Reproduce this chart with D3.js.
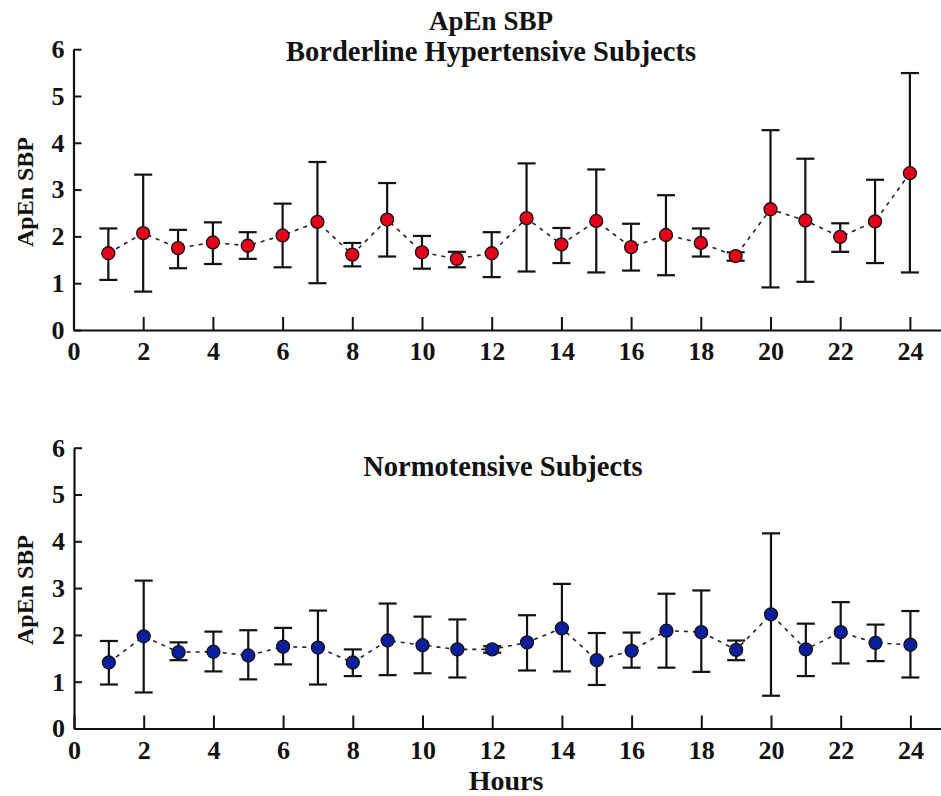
<!DOCTYPE html>
<html>
<head>
<meta charset="utf-8">
<script src="https://cdn.jsdelivr.net/npm/d3@7"></script>
<style>
  html, body { margin: 0; padding: 0; background: #fff; }
  svg { display: block; }
  text { font-family: "Liberation Serif", "Times New Roman", serif; font-weight: bold; fill: #111; }
</style>
</head>
<body>
<svg id="chart" width="941" height="796"></svg>
<script>
// Hourly approximate entropy of systolic blood pressure (mean with error bounds)
const hours = [1,2,3,4,5,6,7,8,9,10,11,12,13,14,15,16,17,18,19,20,21,22,23,24];

const bhMean  = [1.64,2.07,1.75,1.87,1.80,2.02,2.31,1.61,2.36,1.66,1.52,1.64,2.39,1.83,2.33,1.77,2.03,1.86,1.58,2.58,2.34,1.99,2.32,3.35];
const bhUpper = [2.17,3.32,2.14,2.30,2.09,2.70,3.59,1.86,3.14,2.01,1.67,2.09,3.56,2.18,3.43,2.27,2.88,2.17,1.66,4.27,3.66,2.28,3.21,5.49];
const bhLower = [1.07,0.82,1.32,1.41,1.52,1.34,1.00,1.36,1.57,1.31,1.34,1.13,1.25,1.43,1.23,1.27,1.17,1.57,1.48,0.91,1.03,1.67,1.43,1.23];

const ntMean  = [1.41,1.97,1.63,1.64,1.56,1.75,1.73,1.41,1.88,1.78,1.69,1.69,1.84,2.14,1.46,1.66,2.09,2.06,1.68,2.44,1.69,2.06,1.83,1.79];
const ntUpper = [1.87,3.16,1.84,2.07,2.10,2.15,2.52,1.69,2.67,2.39,2.33,1.76,2.42,3.09,2.04,2.05,2.88,2.95,1.88,4.17,2.24,2.70,2.22,2.51];
const ntLower = [0.94,0.77,1.46,1.22,1.05,1.37,0.94,1.12,1.14,1.18,1.09,1.62,1.24,1.22,0.93,1.30,1.30,1.21,1.46,0.70,1.12,1.39,1.44,1.09];

const xTicks = [0,2,4,6,8,10,12,14,16,18,20,22,24];
const yTicks = [0,1,2,3,4,5,6];

const svg = d3.select("#chart");

function panel(cfg) {
  const x = d3.scaleLinear().domain([0, 25]).range([cfg.left, cfg.left + 25 * 34.85]);
  const y = d3.scaleLinear().domain([0, 6]).range([cfg.bottom, cfg.bottom - 6 * 46.8]);
  const g = svg.append("g");

  // axes: ticks point inward
  const xAxis = d3.axisBottom(x).tickValues(xTicks).tickFormat(d3.format("d"))
    .tickSizeInner(-13).tickSizeOuter(0).tickPadding(12);
  const gx = g.append("g").attr("transform", `translate(0,${cfg.bottom})`).call(xAxis);
  const yAxis = d3.axisLeft(y).tickValues(yTicks).tickFormat(d3.format("d"))
    .tickSizeInner(-8).tickSizeOuter(0).tickPadding(9);
  const gy = g.append("g").attr("transform", `translate(${cfg.left},0)`).call(yAxis);
  [gx, gy].forEach(a => {
    a.select(".domain").attr("stroke", "#111").attr("stroke-width", 2.2);
    a.selectAll(".tick line").attr("stroke", "#111").attr("stroke-width", 2);
    a.selectAll(".tick text").attr("font-size", 26).attr("fill", "#111")
      .style("font-family", "'Liberation Serif', serif").style("font-weight", "bold");
  });

  // dashed connecting line through the means
  const line = d3.line().x((d, i) => x(hours[i])).y(d => y(d));
  g.append("path").datum(cfg.mean).attr("d", line)
    .attr("fill", "none").attr("stroke", "#222").attr("stroke-width", 1.6)
    .attr("stroke-dasharray", "4,5");

  // error bars
  const capW = 9;
  const eb = g.append("g").attr("stroke", "#111").attr("stroke-width", 2.2);
  hours.forEach((h, i) => {
    const cx = x(h);
    eb.append("line").attr("x1", cx).attr("x2", cx).attr("y1", y(cfg.upper[i])).attr("y2", y(cfg.lower[i]));
    eb.append("line").attr("x1", cx - capW).attr("x2", cx + capW).attr("y1", y(cfg.upper[i])).attr("y2", y(cfg.upper[i]));
    eb.append("line").attr("x1", cx - capW).attr("x2", cx + capW).attr("y1", y(cfg.lower[i])).attr("y2", y(cfg.lower[i]));
  });

  // mean markers
  g.append("g").selectAll("circle").data(cfg.mean).join("circle")
    .attr("cx", (d, i) => x(hours[i])).attr("cy", d => y(d)).attr("r", 6.5)
    .attr("fill", cfg.color).attr("stroke", "#111").attr("stroke-width", 1.3);

  // y axis title
  g.append("text").attr("transform", `translate(${cfg.ylabX},${cfg.ylabY}) rotate(-90)`)
    .attr("text-anchor", "middle").attr("font-size", 24).text("ApEn SBP");
}

panel({ left: 73.5, bottom: 330, mean: bhMean, upper: bhUpper, lower: bhLower, color: "#e3001b", ylabX: 33, ylabY: 192 });
panel({ left: 74, bottom: 728.5, mean: ntMean, upper: ntUpper, lower: ntLower, color: "#0b1f9e", ylabX: 33, ylabY: 590 });

// titles
svg.append("text").attr("x", 491).attr("y", 30).attr("text-anchor", "middle").attr("font-size", 27).text("ApEn SBP");
svg.append("text").attr("x", 491).attr("y", 61).attr("text-anchor", "middle").attr("font-size", 28.5).text("Borderline Hypertensive Subjects");
svg.append("text").attr("x", 503).attr("y", 476).attr("text-anchor", "middle").attr("font-size", 28.5).text("Normotensive Subjects");
svg.append("text").attr("x", 506).attr("y", 790).attr("text-anchor", "middle").attr("font-size", 28).text("Hours");
</script>
</body>
</html>
